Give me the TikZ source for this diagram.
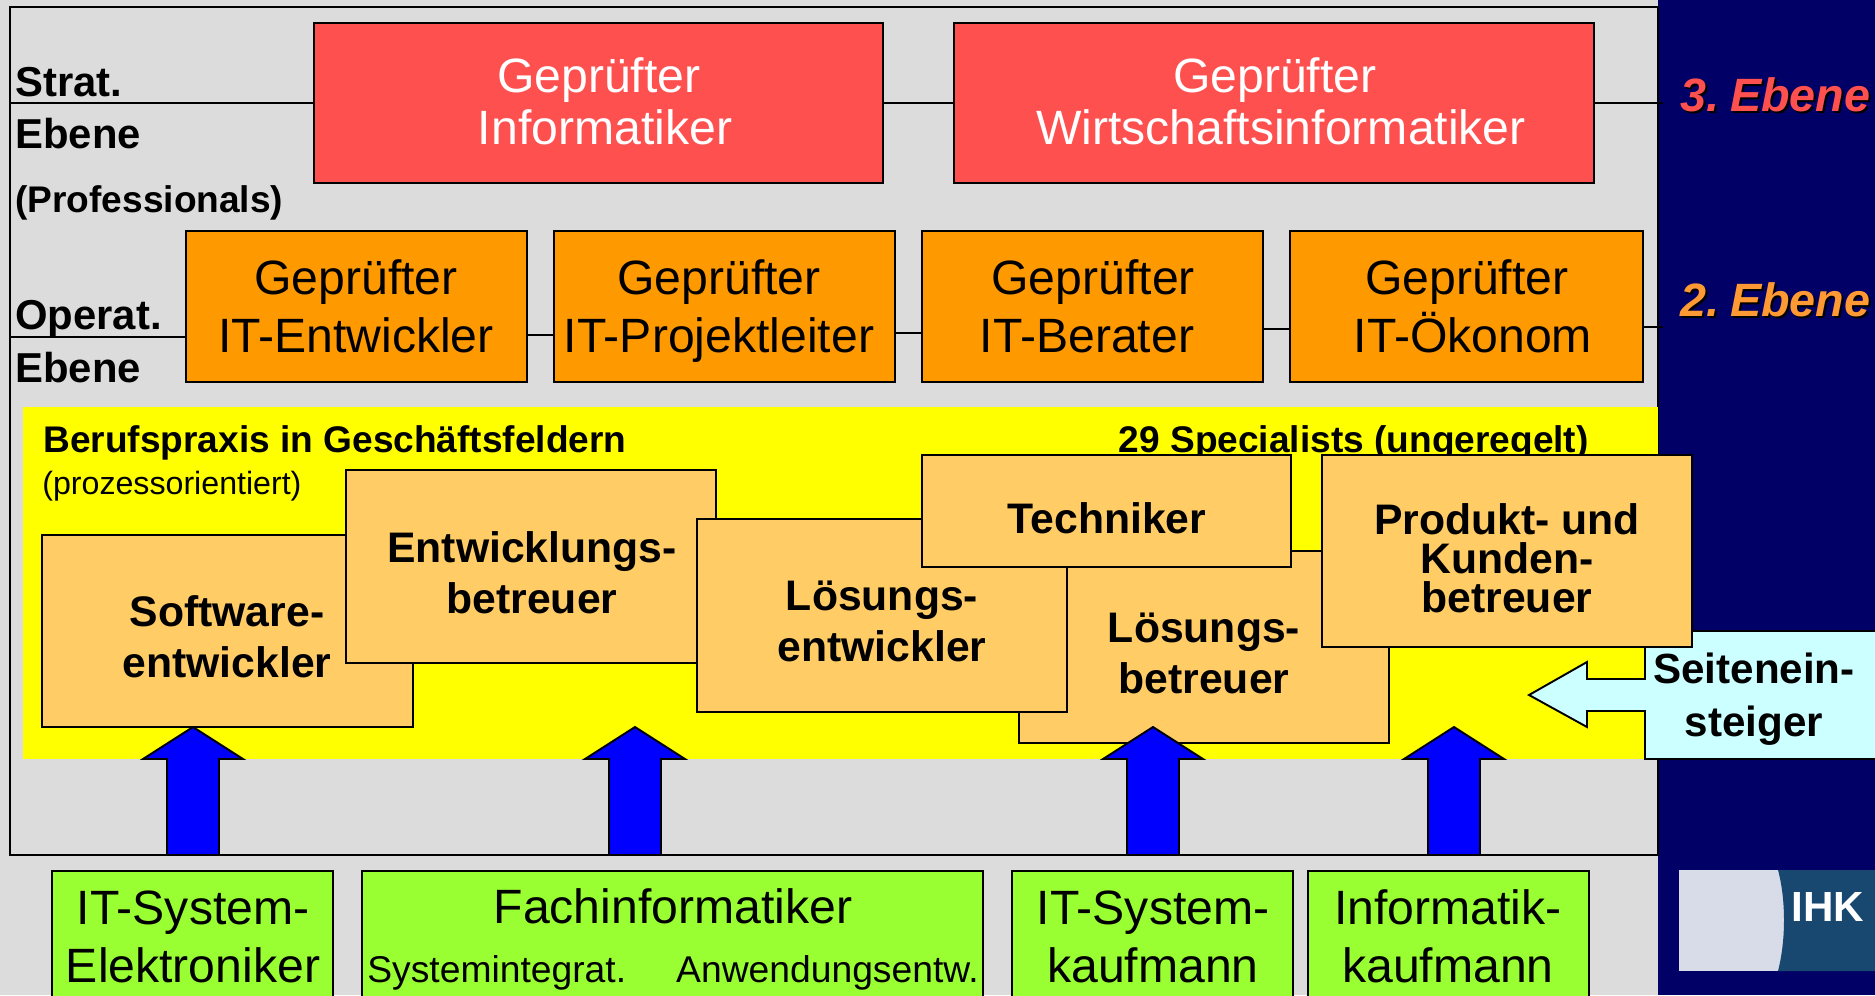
\documentclass[tikz,border=0pt]{standalone}
\usepackage{fontspec}
\setmainfont{Liberation Sans}
\newcommand{\tightspace}{\spaceskip=.14em\relax}
\tikzset{
  sized/.style 2 args={minimum width=#1*.2mm, minimum height=#2*.2mm},
  boxed/.style={draw, line width=1.1pt, inner sep=0pt, outer sep=0pt, anchor=north west},
  redbox/.style={boxed, fill=fachred},
  orangebox/.style={boxed, fill=fachorange},
  palebox/.style={boxed, fill=fachpale},
  greenbox/.style={boxed, fill=fachgreen},
  txt/.style={inner sep=0pt, anchor=base, align=center},
  bigtxt/.style={txt, font=\fontsize{27.4}{33}\selectfont},
  whitetxt/.style={txt, text=white, font=\fontsize{27.4}{29.5}\selectfont},
  boldtxt/.style={txt, font=\fontsize{24.3}{28.5}\selectfont\bfseries},
  sidetxt/.style={inner sep=0pt, anchor=base west, font=\fontsize{23.8}{28}\selectfont\bfseries},
  smalltxt/.style={inner sep=0pt, anchor=base west, font=\fontsize{21.1}{25}\selectfont\bfseries},
  leveltxt/.style={inner sep=0pt, anchor=base west, font=\fontsize{26.6}{30}\selectfont\bfseries\itshape\tightspace},
  conn/.style={line width=1.1pt},
  blockarrow/.style={draw, fill=fachblue, line width=1.1pt}
}
\definecolor{fachgrey}{HTML}{DCDCDC}
\definecolor{fachnavy}{HTML}{000066}
\definecolor{fachred}{HTML}{FF5050}
\definecolor{fachorange}{HTML}{FF9900}
\definecolor{fachpale}{HTML}{FFCC66}
\definecolor{fachgreen}{HTML}{99FF33}
\definecolor{fachcyan}{HTML}{CCFFFF}
\definecolor{fachyellow}{HTML}{FFFF00}
\definecolor{fachblue}{HTML}{0000FF}
\definecolor{levelorange}{HTML}{FF9933}
\definecolor{logolight}{HTML}{D8DCE8}
\definecolor{logodark}{HTML}{18476F}
\begin{document}
\begin{tikzpicture}[x=.2mm, y=-.2mm]
\useasboundingbox (0,0) rectangle (1875,995);
\clip (0,0) rectangle (1875,995);

% background
\fill[fachgrey] (0,0) rectangle (1658,995);
\fill[fachnavy] (1658,0) rectangle (1875,995);
\draw[conn] (10,7) rectangle (1658,855);

% level rows
\node[redbox, sized={569}{160}] (gi) at (314,23) {};
\node[redbox, sized={640}{160}] (gw) at (954,23) {};
\node[orangebox, sized={341}{151}] (oe) at (186,231) {};
\node[orangebox, sized={341}{151}] (op) at (554,231) {};
\node[orangebox, sized={341}{151}] (ob) at (922,231) {};
\node[orangebox, sized={353}{151}] (ok) at (1290,231) {};

\coordinate (s1) at (10,103);
\coordinate (s2) at (1663,103);
\coordinate (o1) at (10,337);
\coordinate (o2) at (0,335);
\coordinate (o3) at (0,333);
\coordinate (o4) at (0,329);
\coordinate (o5) at (1663,327);
\draw[conn] (s1) -- (gi.west);
\draw[conn] (gi.east) -- (gw.west);
\draw[conn] (gw.east) -- (s2);
\draw[conn] (o1) -- (oe.west |- o1);
\draw[conn] (oe.east |- o2) -- (op.west |- o2);
\draw[conn] (op.east |- o3) -- (ob.west |- o3);
\draw[conn] (ob.east |- o4) -- (ok.west |- o4);
\draw[conn] (ok.east |- o5) -- (o5);

\node[whitetxt] (gi-t) at (605,144) {Geprüfter\hspace*{7pt}\\Informatiker};
\node[whitetxt] (gw-t) at (1281,144) {Geprüfter\hspace*{7pt}\\Wirtschaftsinformatiker};
\node[bigtxt] (oe-t) at (356,352) {Geprüfter\\IT-Entwickler};
\node[bigtxt] (op-t) at (719,352) {Geprüfter\\IT-Projektleiter};
\node[bigtxt] (ob-t) at (1087,352) {\hspace*{7pt}Geprüfter\\IT-Berater};
\node[bigtxt] (ok-t) at (1473,352) {Geprüfter\hspace*{7pt}\\IT-Ökonom};

\node[sidetxt] (strat) at (15,96) {Strat.};
\node[sidetxt] (ebene-s) at (15,148) {Ebene};
\node[smalltxt] (prof) at (15,212) {(Professionals)};
\node[sidetxt] (operat) at (15,329) {Operat.};
\node[sidetxt] (ebene-o) at (15,382) {Ebene};

% yellow field
\fill[fachyellow] (23,407) rectangle (1658,759);
\node[smalltxt] (praxis) at (43,452) {Berufspraxis in Geschäftsfeldern};
\node[inner sep=0pt, anchor=base west, font=\fontsize{18.3}{23}\selectfont] (prozess) at (42,494) {(prozessorientiert)};
\node[smalltxt, anchor=base east] (special) at (1589,452) {29 Specialists (ungeregelt)};

\node[palebox, sized={371}{192}] (sw) at (42,535) {};
\node[palebox, sized={370}{193}] (eb) at (346,470) {};
\node[palebox, sized={370}{192}] (lb) at (1019,551) {};
\node[palebox, sized={370}{193}] (le) at (697,519) {};
\node[palebox, sized={369}{112}] (te) at (922,455) {};

% side entry
\draw[line width=1.1pt, fill=fachcyan] (1645,631) -- (1900,631) -- (1900,759) -- (1645,759) -- (1645,711)
  -- (1587,711) -- (1587,727) -- (1529,695) -- (1587,662) -- (1587,679) -- (1645,679) -- cycle;
\node[palebox, sized={370}{192}] (pk) at (1322,455) {};

\node[boldtxt] (sw-t) at (227,677) {Software-\\entwickler};
\node[boldtxt] (eb-t) at (532,613) {Entwicklungs-\\betreuer};
\node[boldtxt] (le-t) at (882,661) {Lösungs-\\entwickler};
\node[boldtxt] (lb-t) at (1204,693) {Lösungs-\\betreuer};
\node[boldtxt] (te-t) at (1107,533) {Techniker};
\node[boldtxt, font=\fontsize{24.3}{22}\selectfont\bfseries] (pk-t) at (1507,612) {Produkt- und\\Kunden-\\betreuer};
\node[boldtxt, font=\fontsize{24}{30}\selectfont\bfseries] (se-t) at (1754,736) {Seitenein-\\steiger};

% arrows from the training boxes
\foreach \x in {193,635,1153,1454}
{
    \draw[blockarrow] ({\x-26},855) -- ({\x-26},759) -- ({\x-50},759) -- (\x,727) -- ({\x+50},759) -- ({\x+26},759) -- ({\x+26},855) -- cycle;
}
\draw[conn] (10,855) -- (1658,855);

% training row
\node[greenbox, sized={281}{140}] (ise) at (52,871) {};
\node[greenbox, sized={621}{140}] (fi) at (362,871) {};
\node[greenbox, sized={281}{140}] (isk) at (1012,871) {};
\node[greenbox, sized={281}{140}] (ik) at (1308,871) {};
\node[bigtxt] (ise-t) at (193,982) {IT-System-\\Elektroniker};
\node[bigtxt] (fi-t) at (673,923) {Fachinformatiker};
\node[inner sep=0pt, anchor=base west, font=\fontsize{21.2}{25}\selectfont] (fi-a) at (367,982) {Systemintegrat.};
\node[inner sep=0pt, anchor=base east, font=\fontsize{21.2}{25}\selectfont] (fi-b) at (979,982) {Anwendungsentw.};
\node[bigtxt] (isk-t) at (1153,982) {IT-System-\\kaufmann};
\node[bigtxt] (ik-t) at (1448,982) {Informatik-\\kaufmann};

% level names with shadow
\node[leveltxt, text=black] (e3-s) at (1682,113) {3. Ebene};
\node[leveltxt, text=fachred] (e3) at (1680,111) {3. Ebene};
\node[leveltxt, text=black] (e2-s) at (1682,318) {2. Ebene};
\node[leveltxt, text=levelorange] (e2) at (1680,316) {2. Ebene};

% logo
\fill[logolight] (1679,870) rectangle (1875,971);
\fill[logodark] (1778,870) .. controls (1786,900) and (1786,940) .. (1778,971) -- (1875,971) -- (1875,870) -- cycle;
\node[inner sep=0pt, anchor=base west, text=white, font=\fontsize{24}{28}\selectfont\bfseries] (ihk) at (1791,921) {IHK};
\end{tikzpicture}
\end{document}
